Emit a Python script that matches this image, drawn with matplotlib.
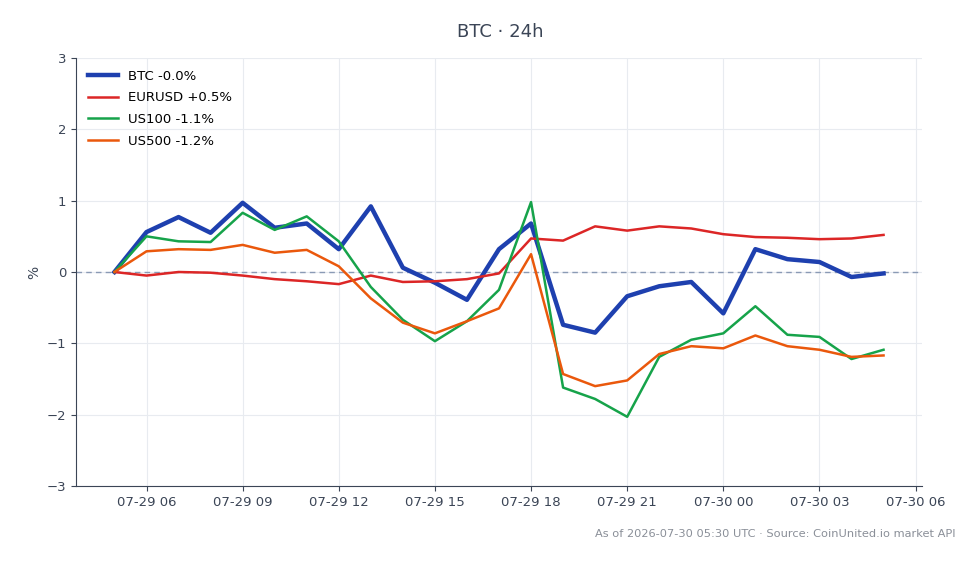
import matplotlib
matplotlib.use("Agg")
import matplotlib.pyplot as plt
import matplotlib.dates as mdates
import pandas as pd

times = pd.date_range("2026-07-29 05:00", "2026-07-30 05:00", freq="h")

btc = [0.0, 0.56, 0.77, 0.55, 0.97, 0.62, 0.68, 0.32, 0.92, 0.06, -0.15, -0.39, 0.32,
       0.68, -0.74, -0.85, -0.34, -0.20, -0.14, -0.58, 0.32, 0.18, 0.14, -0.07, -0.02]
eurusd = [0.0, -0.05, 0.0, -0.01, -0.05, -0.10, -0.13, -0.17, -0.05, -0.14, -0.13, -0.10, -0.02,
          0.47, 0.44, 0.64, 0.58, 0.64, 0.61, 0.53, 0.49, 0.48, 0.46, 0.47, 0.52]
us100 = [0.0, 0.50, 0.43, 0.42, 0.83, 0.59, 0.78, 0.43, -0.21, -0.67, -0.97, -0.69, -0.25,
         0.98, -1.62, -1.78, -2.03, -1.19, -0.95, -0.86, -0.48, -0.88, -0.91, -1.22, -1.09]
us500 = [0.0, 0.29, 0.32, 0.31, 0.38, 0.27, 0.31, 0.08, -0.37, -0.71, -0.86, -0.69, -0.51,
         0.25, -1.43, -1.60, -1.52, -1.15, -1.04, -1.07, -0.89, -1.04, -1.09, -1.19, -1.17]

labels = ["BTC -0.0%", "EURUSD +0.5%", "US100 -1.1%", "US500 -1.2%"]
colors = ["#1e40af", "#dc2626", "#16a34a", "#ea580c"]
widths = [3.2, 1.8, 1.8, 1.8]
series = [btc, eurusd, us100, us500]

text_col = "#3b4556"
fig = plt.figure(figsize=(9.8, 5.64), dpi=100)
ax = fig.add_axes([76/980, 1-486/564, (922-76)/980, (486-58)/564])

for s, lab, c, w in zip(series, labels, colors, widths):
    ax.plot(times, s, color=c, lw=w, label=lab, zorder=3)

ax.axhline(0, color="#8a9ab5", lw=1, ls=(0, (4, 3)), zorder=2)
ax.set_ylim(-3, 3)
ax.set_yticks([-3, -2, -1, 0, 1, 2, 3])
ax.xaxis.set_major_locator(mdates.HourLocator(byhour=[0, 3, 6, 9, 12, 15, 18, 21]))
ax.xaxis.set_major_formatter(mdates.DateFormatter("%m-%d %H"))
ax.grid(True, color="#e8ebf0", lw=0.8, zorder=0)
for side in ["top", "right"]:
    ax.spines[side].set_visible(False)
for side in ["left", "bottom"]:
    ax.spines[side].set_color("#3b4556")
ax.tick_params(colors=text_col, labelsize=9.5)
ax.set_ylabel("%", color=text_col, fontsize=10)
ax.legend(loc="upper left", frameon=False, fontsize=9.5, handlelength=2.3,
          handletextpad=0.75, labelspacing=0.65, borderaxespad=0.5)

fig.text(500/980, 1-32/564, "BTC · 24h", ha="center", va="center", fontsize=13, color=text_col)
fig.text(956/980, 1-534/564, "As of 2026-07-30 05:30 UTC · Source: CoinUnited.io market API",
         ha="right", va="center", fontsize=8.2, color="#8a8f98")

fig.savefig("out.png", dpi=100)
